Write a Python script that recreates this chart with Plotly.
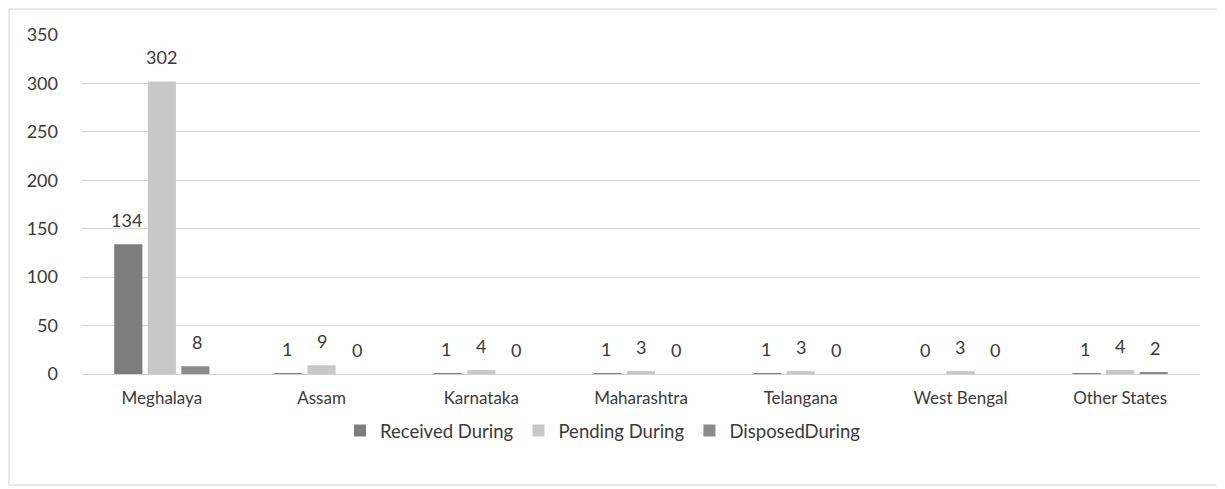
import plotly.graph_objects as go

categories = ["Meghalaya", "Assam", "Karnataka", "Maharashtra", "Telangana", "West Bengal", "Other States"]
received = [134, 1, 1, 1, 1, 0, 1]
pending = [302, 9, 4, 3, 3, 3, 4]
disposed = [8, 0, 0, 0, 0, 0, 2]
series_names = ["Received During", "Pending During", "DisposedDuring"]
y_ticks = [0, 50, 100, 150, 200, 250, 300, 350]

colors = ["#7d7d7d", "#c8c8c8", "#8a8a8a"]
series = [received, pending, disposed]

fig = go.Figure()
for name, vals, col in zip(series_names, series, colors):
    fig.add_trace(go.Bar(x=categories, y=vals, name=name, marker=dict(color=col, line=dict(width=0))))

font_family = "Lato, Open Sans, sans-serif"
text_col = "#3a3a3a"

# data labels above bars
shifts = [-35, 0, 35]
annotations = []
for vals, sh in zip(series, shifts):
    for c, v in zip(categories, vals):
        annotations.append(dict(x=c, y=v, xref="x", yref="y", text=str(v), showarrow=False,
                                xshift=sh, yshift=24, font=dict(size=18, color=text_col, family=font_family)))

L, R, T, B = 74, 33, 27, 123
PW = 1225 - L - R
PH = 489 - T - B

fig.update_layout(
    width=1225, height=489,
    margin=dict(l=L, r=R, t=T, b=B, autoexpand=False),
    paper_bgcolor="white", plot_bgcolor="white",
    barmode="group", bargap=0.37, bargroupgap=0.16,
    font=dict(family=font_family, size=17, color=text_col),
    legend=dict(orientation="h", x=0.466, xanchor="center", y=-0.112, yanchor="top",
                font=dict(size=18.5, color=text_col), itemwidth=30, traceorder="normal"),
    annotations=annotations,
    showlegend=True,
)
fig.update_xaxes(showgrid=False, showline=True, linecolor="#d0d0d0", linewidth=1,
                 tickfont=dict(size=17, color=text_col), ticks="", ticklabelstandoff=9)
fig.update_yaxes(range=[0, 350], tickvals=y_ticks, showgrid=True, gridcolor="#d6d6d6", gridwidth=1,
                 zeroline=False, showline=False, tickfont=dict(size=18, color=text_col),
                 ticklabelstandoff=23)
fig.add_shape(type="rect", xref="paper", yref="paper",
              x0=-(L - 1) / PW, x1=1 + 20 / PW, y0=-(B - 12) / PH, y1=1 + (T - 1) / PH,
              line=dict(color="#d4d4d4", width=1))

fig.write_html("out.html")
